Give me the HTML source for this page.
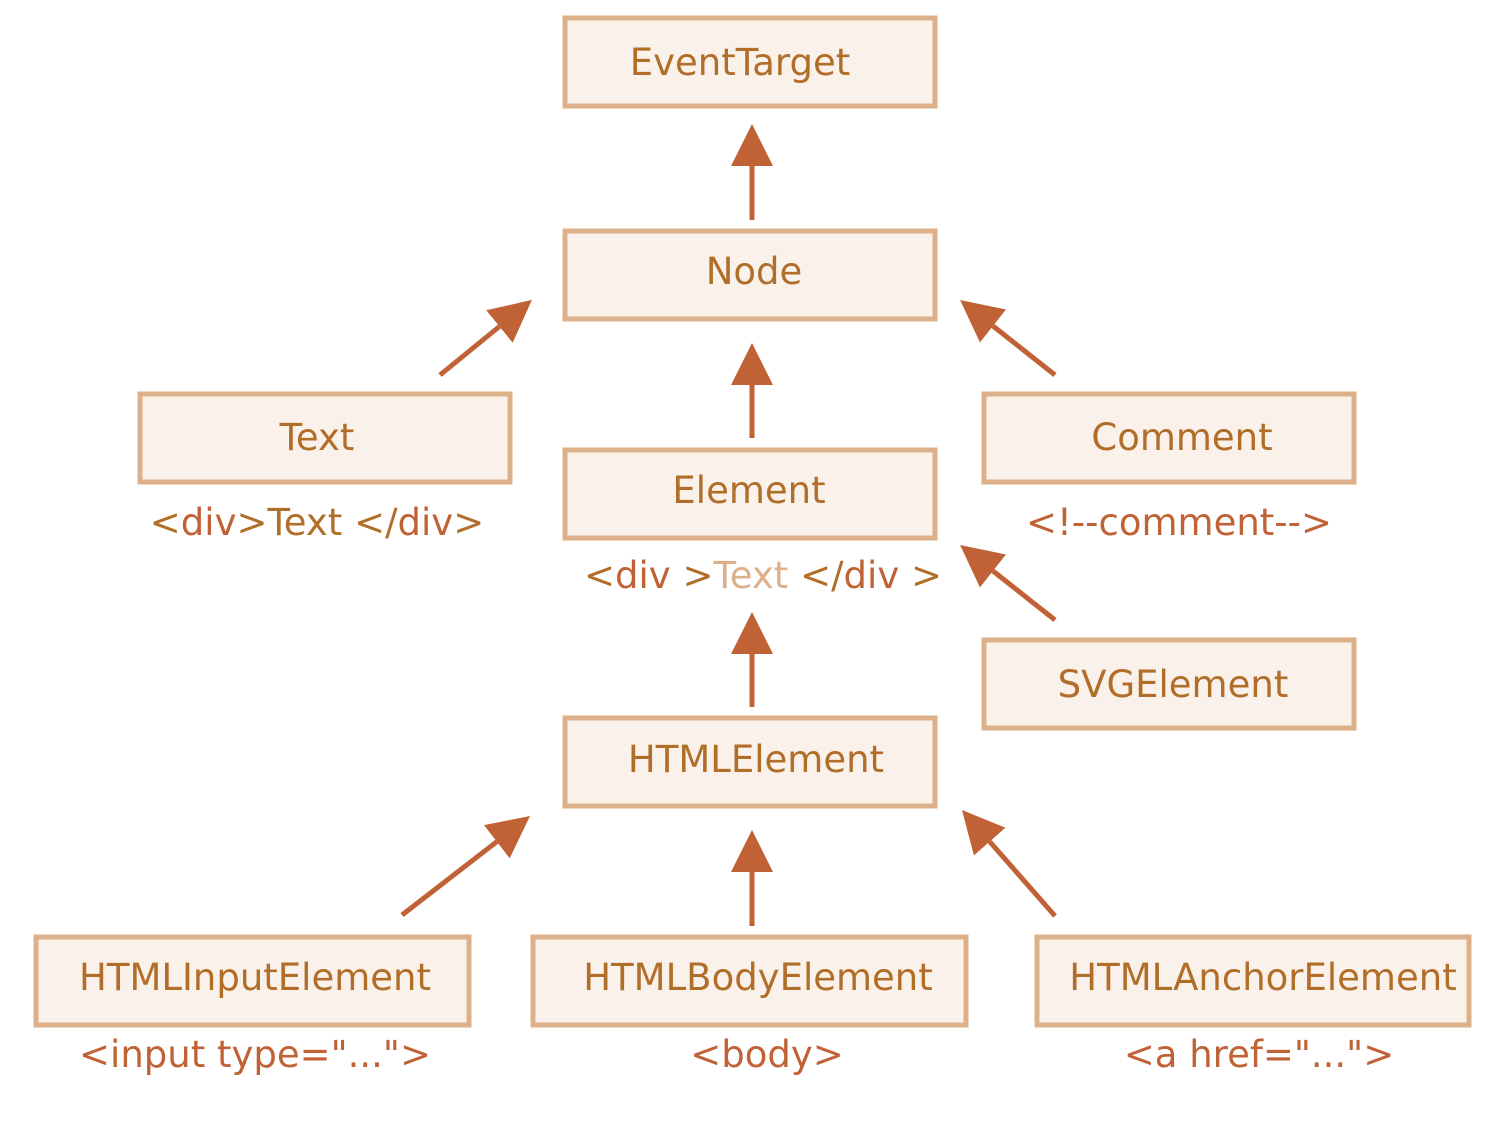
<!DOCTYPE html>
<html><head><meta charset="utf-8"><style>
html,body{margin:0;padding:0;background:#fff;}
svg{display:block;}
text{font-family:"DejaVu Sans","Liberation Sans",sans-serif;font-size:37px;text-anchor:middle;}
.b{fill:#FAF1EB;stroke:#DDB08A;stroke-width:5;}
.t{fill:#B06E28;}
.o{fill:#C06236;}
.l{fill:#DDB08A;}
.a{stroke:#C06236;stroke-width:5;fill:none;}
</style></head><body>
<svg width="1494" height="1138" viewBox="0 0 1494 1138">
<defs>
<marker id="h" markerUnits="userSpaceOnUse" markerWidth="44" markerHeight="44" viewBox="0 -22 44 44" refX="0" refY="0" orient="auto">
<path d="M0,-21 L42,0 L0,21 z" fill="#C06236"/>
</marker>
</defs>
<rect class="b" x="565" y="18" width="370" height="88"/>
<rect class="b" x="565" y="231" width="370" height="88"/>
<rect class="b" x="140" y="394" width="370" height="88"/>
<rect class="b" x="565" y="450" width="370" height="88"/>
<rect class="b" x="984" y="394" width="370" height="88"/>
<rect class="b" x="984" y="640" width="370" height="88"/>
<rect class="b" x="565" y="718" width="370" height="88"/>
<rect class="b" x="36" y="937" width="433" height="88"/>
<rect class="b" x="533" y="937" width="433" height="88"/>
<rect class="b" x="1037" y="937" width="432" height="88"/>

<text class="t" x="740" y="75">EventTarget</text>
<text class="t" x="754" y="284">Node</text>
<text class="t" x="317" y="450">Text</text>
<text class="t" x="749" y="503">Element</text>
<text class="t" x="1182" y="450">Comment</text>
<text class="t" x="1173" y="697">SVGElement</text>
<text class="t" x="756" y="772">HTMLElement</text>
<text class="t" x="255" y="990">HTMLInputElement</text>
<text class="t" x="758" y="990">HTMLBodyElement</text>
<text class="t" x="1263" y="990">HTMLAnchorElement</text>

<text x="317" y="535"><tspan class="t">&lt;</tspan><tspan class="o">div</tspan><tspan class="t">&gt;Text &lt;/</tspan><tspan class="o">div</tspan><tspan class="t">&gt;</tspan></text>
<text class="o" x="1179" y="535">&lt;!--comment--&gt;</text>
<text x="763" y="588"><tspan class="t">&lt;</tspan><tspan class="o">div </tspan><tspan class="t">&gt;</tspan><tspan class="l">Text</tspan><tspan class="t"> &lt;/</tspan><tspan class="o">div </tspan><tspan class="t">&gt;</tspan></text>
<text class="o" x="255" y="1067">&lt;input type="..."&gt;</text>
<text class="o" x="767" y="1067">&lt;body&gt;</text>
<text class="o" x="1259" y="1067">&lt;a href="..."&gt;</text>

<line class="a" x1="752" y1="220" x2="752" y2="166" marker-end="url(#h)"/>
<line class="a" x1="752" y1="438" x2="752" y2="385" marker-end="url(#h)"/>
<line class="a" x1="440" y1="375" x2="499.4" y2="326.5" marker-end="url(#h)"/>
<line class="a" x1="1055" y1="375" x2="993" y2="326" marker-end="url(#h)"/>
<line class="a" x1="1055" y1="620" x2="993" y2="571" marker-end="url(#h)"/>
<line class="a" x1="752" y1="707" x2="752" y2="654" marker-end="url(#h)"/>
<line class="a" x1="402" y1="915" x2="496.8" y2="841.7" marker-end="url(#h)"/>
<line class="a" x1="752" y1="926" x2="752" y2="872" marker-end="url(#h)"/>
<line class="a" x1="1055" y1="916" x2="989.7" y2="841.6" marker-end="url(#h)"/>
</svg>
</body></html>
